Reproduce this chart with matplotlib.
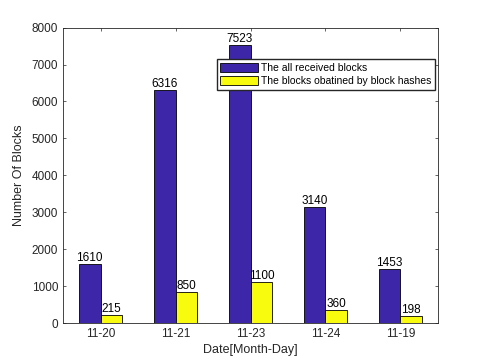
import matplotlib.pyplot as plt
import numpy as np

plt.rcParams['font.family'] = ['Liberation Sans', 'DejaVu Sans']

dates = ['11-20', '11-21', '11-23', '11-24', '11-19']
all_blocks = [1610, 6316, 7523, 3140, 1453]
hash_blocks = [215, 850, 1100, 360, 198]

fig = plt.figure(figsize=(4.85, 3.63), dpi=100)
ax = fig.add_axes([0.130, 0.110, 0.773, 0.814])

x = np.arange(1, len(dates) + 1)
w = 0.29
b1 = ax.bar(x - w/2, all_blocks, w, color='#3e26a8', edgecolor='black', linewidth=0.6,
            label='The all received blocks')
b2 = ax.bar(x + w/2, hash_blocks, w, color='#f9fb0e', edgecolor='black', linewidth=0.6,
            label='The blocks obatined by block hashes')

for bars, vals in ((b1, all_blocks), (b2, hash_blocks)):
    for r, v in zip(bars, vals):
        ax.text(r.get_x() + r.get_width()/2, v, str(v), ha='center', va='bottom', fontsize=8.5)

ax.set_xlim(0.5, 5.5)
ax.set_ylim(0, 8000)
ax.set_xticks(x)
ax.set_xticklabels(dates)
ax.set_yticks(np.arange(0, 8001, 1000))
ax.tick_params(direction='in', labelsize=8.5, length=2.5, width=0.5, color='#262626',
               labelcolor='#262626', top=True, right=True, pad=3.5)
for s in ax.spines.values():
    s.set_linewidth(0.6)
    s.set_color('#262626')
ax.set_xlabel('Date[Month-Day]', fontsize=9, color='#262626', labelpad=3)
ax.set_ylabel('Number Of Blocks', fontsize=9, color='#262626', labelpad=5)

ax.legend(loc='upper right', bbox_to_anchor=(0.992, 0.893), fontsize=7.5, fancybox=False,
          edgecolor='#262626', framealpha=1, borderpad=0.35, labelspacing=0.25,
          handlelength=3.6, handleheight=1.0, handletextpad=0.3, borderaxespad=0)

fig.savefig('out.png', dpi=100)
